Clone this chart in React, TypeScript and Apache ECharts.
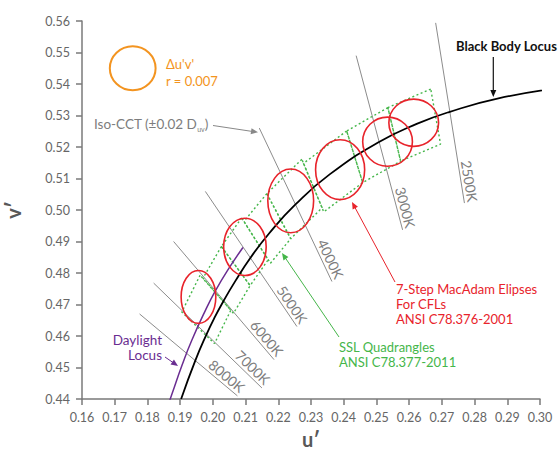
import React, { useEffect, useRef } from "react";
import * as echarts from "echarts";

const FONT = "Lato, 'DejaVu Sans', sans-serif";

// Axis ranges (CIE 1976 u'v')
const uRange = [0.16, 0.3];
const vRange = [0.44, 0.56];
const tickStep = 0.01;

// Planckian (black body) locus, u'v' at 10000K … 2000K
const planckianLocus: [number, number][] = [
  [0.1903, 0.44], [0.1946, 0.4521], [0.1981, 0.4606], [0.2004, 0.4656],
  [0.2033, 0.4712], [0.2069, 0.4775], [0.2114, 0.4847], [0.2173, 0.4927],
  [0.2251, 0.5016], [0.2357, 0.5113], [0.2505, 0.5214], [0.2625, 0.5274],
  [0.2722, 0.5311], [0.2876, 0.5355], [0.3051, 0.5386],
];

// CIE daylight locus, 11000K … 5000K
const daylightLocus: [number, number][] = [
  [0.1861, 0.4373], [0.1876, 0.4419], [0.1906, 0.4508], [0.1935, 0.4585],
  [0.1978, 0.4683], [0.2008, 0.4744], [0.2044, 0.4807], [0.2092, 0.4881],
];

// Iso-CCT lines (±0.02 Duv): upper and lower ends
const isoCctLabels = ["2500K", "3000K", "4000K", "5000K", "6000K", "7000K", "8000K"];
const isoCctTop: [number, number][] = [
  [0.2681, 0.5594], [0.2438, 0.549], [0.2142, 0.526], [0.1977, 0.5059],
  [0.188, 0.49], [0.1819, 0.4768], [0.1776, 0.467],
];
const isoCctBottom: [number, number][] = [
  [0.2769, 0.5022], [0.258, 0.4937], [0.2364, 0.4773], [0.2257, 0.463],
  [0.2187, 0.4525], [0.215, 0.4435], [0.2075, 0.441],
];

// ANSI C78.377 SSL quadrangles (corners in u'v')
const quadNames = ["2700K", "3000K", "3500K", "4000K", "4500K", "5000K", "5700K", "6500K"];
const quadCorners: [number, number][][] = [
  [[0.2666, 0.5384], [0.2535, 0.5325], [0.2574, 0.5155], [0.2696, 0.5209]],
  [[0.2535, 0.5325], [0.2409, 0.5251], [0.2458, 0.5087], [0.2574, 0.5155]],
  [[0.2409, 0.5251], [0.2277, 0.5148], [0.2339, 0.4994], [0.2458, 0.5087]],
  [[0.2272, 0.5161], [0.2165, 0.5052], [0.2238, 0.4909], [0.2334, 0.5007]],
  [[0.2165, 0.5052], [0.2095, 0.4964], [0.2176, 0.4831], [0.2238, 0.4909]],
  [[0.2088, 0.4975], [0.2026, 0.4884], [0.2114, 0.476], [0.2169, 0.4842]],
  [[0.2026, 0.4884], [0.197, 0.4784], [0.2063, 0.4672], [0.2114, 0.476]],
  [[0.1961, 0.4793], [0.1905, 0.4676], [0.2005, 0.4576], [0.2055, 0.4682]],
];

// 7-step MacAdam ellipses for CFLs: centre u', centre v', semi-axis u', semi-axis v'
const macAdamNames = ["6500K", "5000K", "4100K", "3500K", "3000K", "2700K"];
const macAdamEllipses: [number, number, number, number][] = [
  [0.1956, 0.4724, 0.0053, 0.0084],
  [0.2098, 0.4883, 0.0065, 0.0091],
  [0.2238, 0.5029, 0.007, 0.0101],
  [0.2389, 0.5128, 0.0075, 0.0095],
  [0.2534, 0.5217, 0.0076, 0.0078],
  [0.2614, 0.5277, 0.0076, 0.0075],
];

// Reference circle: Δu'v' radius 0.007
const deltaCircle: [number, number, number, number] = [0.1755, 0.545, 0.007, 0.007];

const GRAY_TEXT = "#7d7d7d";
const RED = "#e8232b";
const GREEN = "#45b64a";
const PURPLE = "#6a2d91";
const ORANGE = "#f39420";

function arrow(x1: number, y1: number, x2: number, y2: number, color: string, width = 1) {
  const dx = x2 - x1;
  const dy = y2 - y1;
  const len = Math.hypot(dx, dy);
  const ux = dx / len;
  const uy = dy / len;
  const head = 7;
  const half = 3;
  const bx = x2 - ux * head;
  const by = y2 - uy * head;
  return [
    {
      type: "line",
      z: 100,
      shape: { x1, y1, x2: bx + ux * 2, y2: by + uy * 2 },
      style: { stroke: color, lineWidth: width },
    },
    {
      type: "polygon",
      z: 100,
      shape: {
        points: [
          [x2, y2],
          [bx - uy * half, by + ux * half],
          [bx + uy * half, by - ux * half],
        ],
      },
      style: { fill: color },
    },
  ];
}

function label(text: string, x: number, y: number, color: string, opts: any = {}) {
  return {
    type: "text",
    z: 100,
    x,
    y,
    style: {
      text,
      fill: color,
      fontSize: opts.fontSize ?? 13,
      fontWeight: opts.fontWeight ?? "normal",
      fontFamily: FONT,
      align: opts.align ?? "left",
      textAlign: opts.align ?? "left",
      verticalAlign: "middle",
      textVerticalAlign: "middle",
      rich: opts.rich,
    },
  };
}

function ellipseRenderer(stroke: string, width: number) {
  return (params: any, api: any) => {
    const c = api.coord([api.value(0), api.value(1)]);
    const s = api.size([api.value(2), api.value(3)]);
    return {
      type: "ellipse",
      shape: { cx: c[0], cy: c[1], rx: s[0], ry: s[1] },
      style: { fill: "none", stroke, lineWidth: width },
    };
  };
}

export default function App() {
  const ref = useRef<HTMLDivElement>(null);

  useEffect(() => {
    if (!ref.current) return;
    const chart = echarts.init(ref.current, undefined, { renderer: "svg" });

    const axisColor = "#7a7a7a";
    const axisCommon = {
      type: "value",
      interval: tickStep,
      nameLocation: "middle",
      nameTextStyle: { fontSize: 20, fontWeight: "bold", color: "#585858", fontFamily: FONT },
      axisLine: { show: true, onZero: false, lineStyle: { color: axisColor, width: 1.5 } },
      axisTick: { show: true, length: 6, lineStyle: { color: axisColor, width: 1.5 } },
      axisLabel: {
        formatter: (v: number) => v.toFixed(2),
        color: "#666",
        fontSize: 12.5,
        fontFamily: FONT,
        margin: 12,
      },
      splitLine: { show: false },
    };

    const isoSeries = isoCctLabels.map((name, i) => ({
      type: "line",
      name: "Iso-CCT " + name,
      data: [isoCctTop[i], isoCctBottom[i]],
      symbol: "none",
      z: 2,
      lineStyle: { color: "#8c8c8c", width: 1 },
    }));

    const quadSeries = quadNames.map((name, i) => ({
      type: "line",
      name: "Quadrangle " + name,
      data: [...quadCorners[i], quadCorners[i][0]],
      symbol: "none",
      z: 3,
      lineStyle: { color: GREEN, width: 1.4, type: [2, 2.5] },
    }));

    const option: any = {
      animation: false,
      grid: {
        left: 82,
        right: 19,
        top: 21,
        bottom: 53,
        containLabel: false,
        outerBoundsMode: "none",
      },
      xAxis: { ...axisCommon, min: uRange[0], max: uRange[1], name: "u′", nameGap: 29 },
      yAxis: {
        ...axisCommon,
        min: vRange[0],
        max: vRange[1],
        name: "v′",
        nameRotate: 90,
        nameGap: 59,
      },
      series: [
        ...isoSeries,
        {
          type: "custom",
          name: "Iso-CCT labels",
          z: 2,
          data: isoCctTop.map((t, i) => [t[0], t[1], isoCctBottom[i][0], isoCctBottom[i][1]]),
          encode: { x: [0, 2], y: [1, 3] },
          renderItem: (params: any, api: any) => {
            const p1 = api.coord([api.value(0), api.value(1)]);
            const p2 = api.coord([api.value(2), api.value(3)]);
            const dx = p2[0] - p1[0];
            const dy = p2[1] - p1[1];
            const len = Math.hypot(dx, dy);
            const ux = dx / len;
            const uy = dy / len;
            const off = 8.5;
            return {
              type: "text",
              x: p2[0] + uy * off,
              y: p2[1] - ux * off,
              rotation: -Math.atan2(dy, dx),
              style: {
                text: isoCctLabels[params.dataIndex],
                fill: GRAY_TEXT,
                fontSize: 14,
                fontFamily: FONT,
                align: "right",
                textAlign: "right",
                verticalAlign: "middle",
                textVerticalAlign: "middle",
              },
            };
          },
        },
        ...quadSeries,
        {
          type: "line",
          name: "Daylight Locus",
          data: daylightLocus,
          smooth: true,
          symbol: "none",
          z: 4,
          lineStyle: { color: PURPLE, width: 1.5 },
        },
        {
          type: "line",
          name: "Black Body Locus",
          data: planckianLocus,
          smooth: true,
          symbol: "none",
          z: 5,
          lineStyle: { color: "#000", width: 1.8 },
        },
        {
          type: "custom",
          name: "MacAdam ellipses",
          z: 6,
          data: macAdamEllipses,
          encode: { x: 0, y: 1 },
          renderItem: ellipseRenderer(RED, 1.6),
        },
        {
          type: "custom",
          name: "Δu'v' circle",
          z: 6,
          data: [deltaCircle],
          encode: { x: 0, y: 1 },
          renderItem: ellipseRenderer(ORANGE, 2),
        },
      ],
      graphic: [
        label("Δu'v'", 166, 64, ORANGE),
        label("r = 0.007", 166, 80.5, ORANGE),
        label("", 94, 124, GRAY_TEXT, {
          rich: {
            a: { fontSize: 13.5, fontFamily: FONT, color: GRAY_TEXT, lineHeight: 16 },
            s: { fontSize: 7, fontFamily: FONT, color: GRAY_TEXT, lineHeight: 16, verticalAlign: "bottom" },
          },
        }),
        label("Black Body Locus", 456, 46, "#111", { fontWeight: "bold" }),
        label("Daylight", 162, 340, PURPLE, { align: "right", fontSize: 13.5 }),
        label("Locus", 162, 355, PURPLE, { align: "right", fontSize: 13.5 }),
        label("7-Step MacAdam Elipses", 396, 289, RED),
        label("For CFLs", 396, 304, RED),
        label("ANSI C78.376-2001", 396, 319, RED),
        label("SSL Quadrangles", 339, 346.5, GREEN),
        label("ANSI C78.377-2011", 339, 362, GREEN),
        ...arrow(493.3, 57, 493.3, 97, "#111", 1.2),
        ...arrow(213, 125.5, 258, 132.3, "#888", 1),
        ...arrow(165, 357, 178, 366, PURPLE, 1),
        ...arrow(395, 282, 352, 202, RED, 1),
        ...arrow(339, 337, 282, 253, GREEN, 1),
      ],
    };

    // Iso-CCT caption with the Duv subscript
    option.graphic[2].style.text = "{a|Iso-CCT (±0.02 D}{s|uv}{a|)}";

    chart.setOption(option);
    return () => chart.dispose();
  }, []);

  return (
    <div
      ref={ref}
      style={{ position: "fixed", left: 0, top: 0, width: 559, height: 452, background: "#fff" }}
    />
  );
}
